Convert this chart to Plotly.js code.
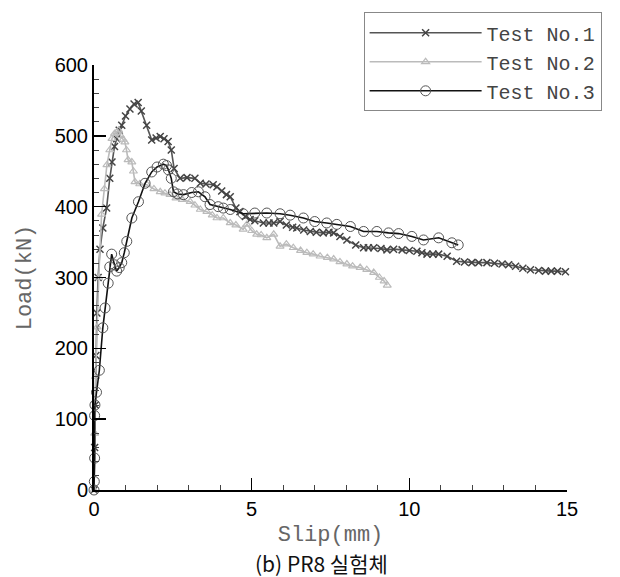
<!DOCTYPE html>
<html>
<head>
<meta charset="utf-8">
<script src="https://cdn.plot.ly/plotly-3.0.1.min.js"></script>
<style>html,body{margin:0;padding:0;background:#fff;}#chart{width:620px;height:577px;}</style>
</head>
<body>
<div id="chart"></div>
<script>
// Test No.1
var slip1 = [0, 0.02, 0.04, 0.06, 0.09, 0.13, 0.19, 0.28, 0.4, 0.5, 0.57, 0.65, 0.72, 0.8, 0.88, 1.0, 1.14, 1.27, 1.4, 1.5, 1.67, 1.83, 1.97, 2.1, 2.22, 2.35, 2.45, 2.54, 2.73, 2.95, 3.2, 3.37, 3.55, 3.78, 3.9, 4.05, 4.2, 4.32, 4.5, 4.63, 4.8, 4.95, 5.1, 5.37, 5.55, 5.7, 5.9, 6.1, 6.3, 6.43, 6.65, 6.86, 7.05, 7.27, 7.45, 7.6, 7.8, 8.02, 8.3, 8.55, 8.7, 8.87, 9.1, 9.29, 9.5, 9.77, 10.0, 10.24, 10.4, 10.56, 10.75, 10.93, 11.2, 11.5, 11.75, 11.98, 12.2, 12.46, 12.7, 12.94, 13.15, 13.37, 13.6, 13.84, 14.1, 14.32, 14.5, 14.7, 14.95];
var load1 = [0, 60, 120, 190, 250, 300, 340, 370, 398, 440, 463, 485, 496, 508, 515, 528, 538, 545, 547, 535, 515, 494, 497, 499, 496, 492, 480, 454, 440, 441, 440, 433, 432, 431, 428, 422, 417, 414, 398, 393, 386, 382, 380, 377, 377, 377, 379, 374, 371, 370, 367, 365, 364, 363, 364, 363, 358, 353, 346, 342, 342, 342, 341, 339, 340, 339, 338, 337, 335, 333, 333, 333, 330, 323, 322, 321, 321, 321, 320, 319, 318, 316, 313, 311, 310, 309, 309, 309, 308];
// Test No.2
var slip2 = [0, 0.02, 0.05, 0.1, 0.15, 0.24, 0.33, 0.41, 0.5, 0.57, 0.65, 0.72, 0.78, 0.85, 0.92, 0.98, 1.03, 1.08, 1.2, 1.25, 1.3, 1.45, 1.68, 1.9, 2.1, 2.25, 2.41, 2.6, 2.8, 3.05, 3.2, 3.37, 3.58, 3.75, 3.9, 4.1, 4.32, 4.5, 4.73, 4.85, 5.0, 5.16, 5.3, 5.48, 5.7, 5.9, 6.1, 6.32, 6.55, 6.75, 6.95, 7.17, 7.4, 7.6, 7.8, 8.02, 8.2, 8.44, 8.65, 8.87, 9.05, 9.2, 9.3];
var load2 = [0, 80, 160, 230, 300, 389, 425, 459, 480, 496, 503, 505, 508, 500, 495, 491, 480, 466, 463, 450, 435, 432, 431, 425, 421, 419, 417, 412, 410, 407, 402, 396, 393, 388, 384, 384, 377, 374, 368, 375, 366, 361, 360, 356, 361, 344, 347, 342, 338, 335, 333, 330, 328, 326, 322, 319, 316, 314, 311, 307, 300, 295, 289];
// Test No.3
var slip3 = [0, 0.01, 0.02, 0.02, 0.03, 0.08, 0.17, 0.28, 0.35, 0.45, 0.5, 0.56, 0.65, 0.72, 0.8, 0.88, 0.96, 1.04, 1.2, 1.41, 1.62, 1.83, 2.0, 2.2, 2.3, 2.36, 2.45, 2.52, 2.65, 2.84, 3.1, 3.31, 3.52, 3.68, 3.94, 4.1, 4.32, 4.73, 5.1, 5.48, 5.9, 6.22, 6.64, 7.0, 7.38, 7.7, 8.13, 8.55, 8.97, 9.34, 9.66, 10.08, 10.45, 10.93, 11.35, 11.55];
var load3 = [0, 12, 45, 105, 120, 138, 169, 229, 257, 292, 315, 333, 318, 309, 314, 321, 335, 351, 384, 407, 433, 449, 456, 460, 458, 452, 440, 421, 418, 417, 420, 421, 414, 403, 400, 398, 396, 390, 391, 391, 390, 388, 384, 379, 377, 375, 372, 365, 365, 363, 362, 358, 353, 356, 349, 346];

var names = ["Test No.1", "Test No.2", "Test No.3"];
var xTickVals = [0, 5, 10, 15];
var yTickVals = [0, 100, 200, 300, 400, 500, 600];

var traces = [
  {x: slip1, y: load1, name: names[0], mode: "lines+markers",
   line: {color: "#555555", width: 1.6},
   marker: {symbol: "x-thin-open", size: 7, color: "#444444", line: {color: "#444444", width: 1.5}},
   cliponaxis: false},
  {x: slip2, y: load2, name: names[1], mode: "lines+markers",
   line: {color: "#bbbbbb", width: 1.6},
   marker: {symbol: "triangle-up-open", size: 7, color: "#bbbbbb", line: {color: "#bbbbbb", width: 1.2}},
   cliponaxis: false},
  {x: slip3, y: load3, name: names[2], mode: "lines+markers",
   line: {color: "#111111", width: 1.6},
   marker: {symbol: "circle-open", size: 10, color: "#555555", line: {color: "#555555", width: 1}},
   cliponaxis: false}
];

var layout = {
  width: 620, height: 577,
  margin: {l: 94, r: 53, t: 63, b: 87},
  paper_bgcolor: "#ffffff", plot_bgcolor: "#ffffff",
  showlegend: true,
  legend: {x: 0.57, y: 1.124, xanchor: "left", yanchor: "top",
    bordercolor: "#888888", borderwidth: 1, bgcolor: "#ffffff",
    font: {family: "Liberation Mono, monospace", size: 20, color: "#444444"},
    itemwidth: 112, tracegroupgap: 0},
  xaxis: {range: [0, 15], showgrid: false, zeroline: false,
    showline: true, linecolor: "#000000", linewidth: 2,
    ticks: "inside", ticklen: 12, tickwidth: 1.5, tickcolor: "#000000",
    tickvals: xTickVals, ticktext: xTickVals.map(String),
    minor: {ticks: "inside", dtick: 1, ticklen: 5, tickcolor: "#444444", tickwidth: 1},
    tickfont: {family: "Liberation Sans, Arial, sans-serif", size: 20, color: "#000000"},
    title: {text: "Slip(mm)", font: {family: "Liberation Mono, monospace", size: 22, color: "#666666"}, standoff: 7}},
  yaxis: {range: [0, 600], showgrid: false, zeroline: false,
    showline: true, linecolor: "#000000", linewidth: 2,
    ticks: "inside", ticklen: 12, tickwidth: 1.5, tickcolor: "#000000",
    tickvals: yTickVals, ticktext: yTickVals.map(String),
    minor: {ticks: "inside", dtick: 20, ticklen: 5, tickcolor: "#444444", tickwidth: 1},
    tickfont: {family: "Liberation Sans, Arial, sans-serif", size: 20, color: "#000000"},
    title: {text: "Load(kN)", font: {family: "Liberation Mono, monospace", size: 22, color: "#666666"}, standoff: 17}},
  annotations: [
    {text: "(b) PR8 실험체", xref: "paper", yref: "paper", x: 0.48, y: -0.171,
     xanchor: "center", yanchor: "middle", showarrow: false,
     font: {family: "Noto Sans CJK KR, Noto Sans, sans-serif", size: 21, color: "#111111"}}
  ]
};

Plotly.newPlot("chart", traces, layout, {displayModeBar: false, staticPlot: true});
</script>
</body>
</html>
